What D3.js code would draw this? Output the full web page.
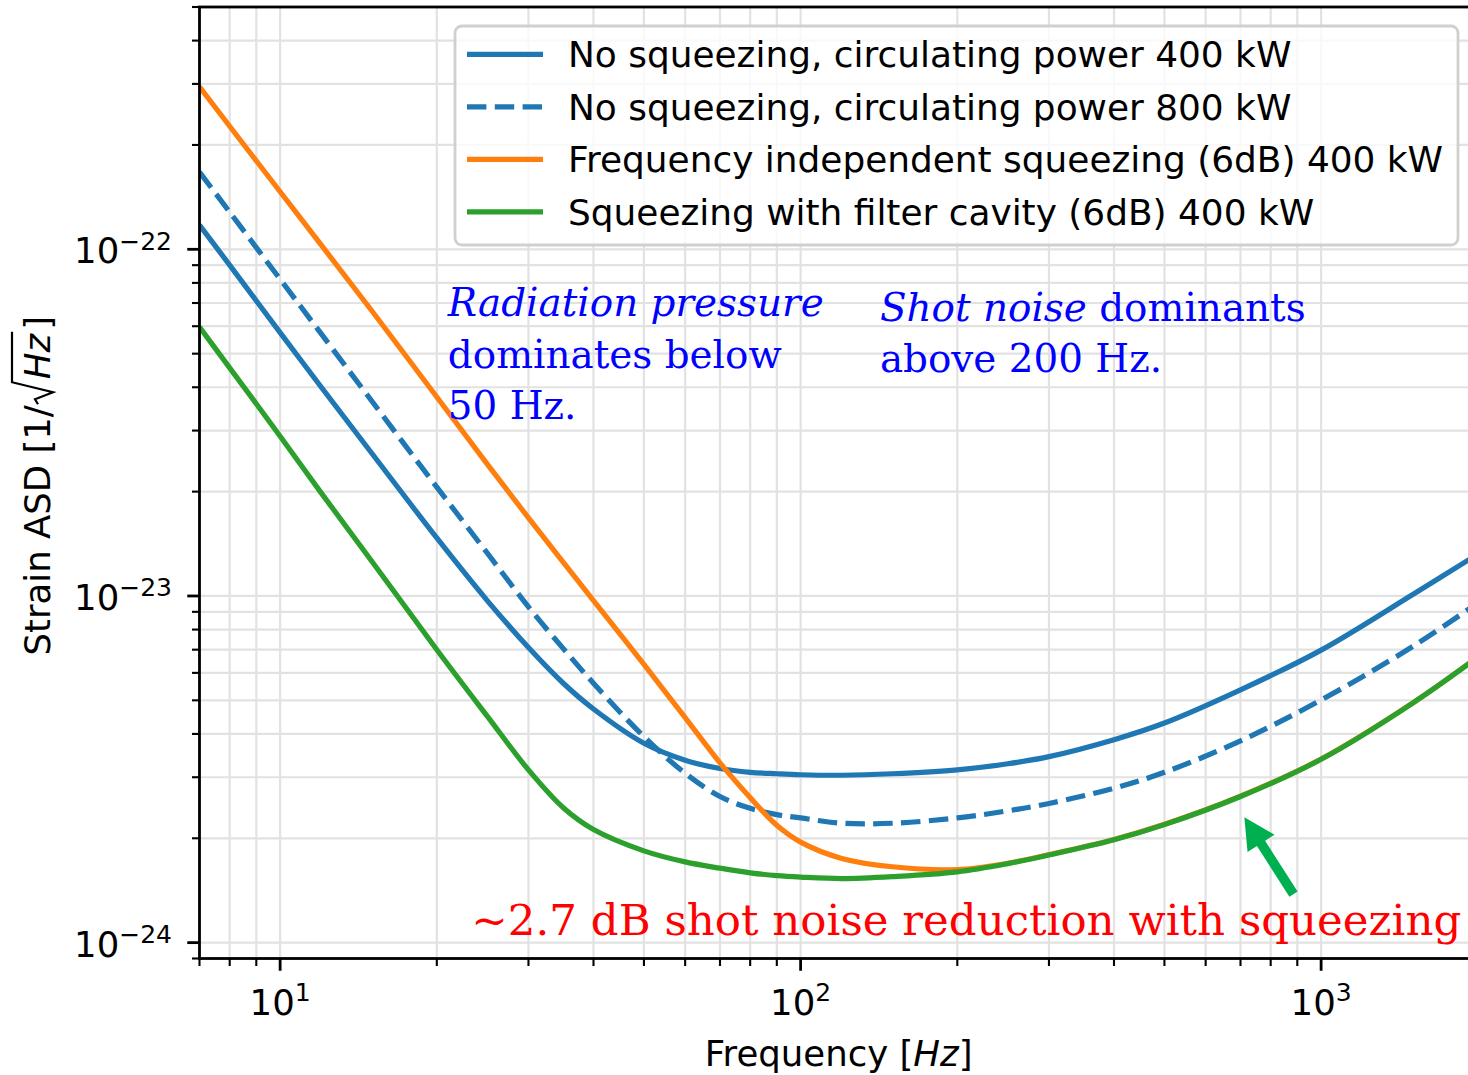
<!DOCTYPE html>
<html><head><meta charset="utf-8">
<script src="https://cdn.jsdelivr.net/npm/d3@7"></script>
<style>body{margin:0;background:#fff} svg{display:block}</style>
</head><body>
<svg id="chart" width="1468" height="1075"></svg>
<script>
// ---------- data ----------
const freq = [7, 8, 10, 12, 15, 20, 25, 30, 35, 40, 50, 60, 70, 80, 90, 100, 120, 150, 200, 250, 300, 400, 500, 700, 1000, 1500, 2000];
const noSqz400 = [117.5e-24, 90e-24, 57.5e-24, 40e-24, 25.8e-24, 14.7e-24, 9.7e-24, 7.1e-24, 5.6e-24, 4.72e-24, 3.76e-24, 3.36e-24, 3.18e-24, 3.10e-24, 3.07e-24, 3.05e-24, 3.04e-24, 3.07e-24, 3.15e-24, 3.28e-24, 3.44e-24, 3.85e-24, 4.30e-24, 5.36e-24, 6.98e-24, 10.1e-24, 13.2e-24];
const noSqz800 = [167e-24, 128e-24, 82e-24, 57e-24, 36.5e-24, 20.6e-24, 13.3e-24, 9.3e-24, 7.05e-24, 5.6e-24, 3.93e-24, 3.08e-24, 2.64e-24, 2.44e-24, 2.34e-24, 2.29e-24, 2.21e-24, 2.21e-24, 2.29e-24, 2.40e-24, 2.52e-24, 2.79e-24, 3.10e-24, 3.82e-24, 5.01e-24, 7.15e-24, 9.55e-24];
const fisSqz400 = [294e-24, 226.5e-24, 146.6e-24, 102.8e-24, 66.5e-24, 37.5e-24, 24e-24, 16.8e-24, 12.5e-24, 9.7e-24, 6.35e-24, 4.46e-24, 3.30e-24, 2.62e-24, 2.18e-24, 1.95e-24, 1.75e-24, 1.655e-24, 1.625e-24, 1.695e-24, 1.795e-24, 1.985e-24, 2.195e-24, 2.645e-24, 3.385e-24, 4.915e-24, 6.67e-24];
const fcSqz400 = [59.7e-24, 45.5e-24, 28.9e-24, 19.8e-24, 12.6e-24, 7.0e-24, 4.5e-24, 3.15e-24, 2.45e-24, 2.12e-24, 1.84e-24, 1.71e-24, 1.64e-24, 1.59e-24, 1.56e-24, 1.545e-24, 1.53e-24, 1.55e-24, 1.60e-24, 1.69e-24, 1.79e-24, 1.98e-24, 2.19e-24, 2.64e-24, 3.38e-24, 4.91e-24, 6.66e-24];
const seriesLabels = [
  "No squeezing, circulating power 400 kW",
  "No squeezing, circulating power 800 kW",
  "Frequency independent squeezing (6dB) 400 kW",
  "Squeezing with filter cavity (6dB) 400 kW"
];
const xMajorTicks = [10, 100, 1000];
const yMajorTicks = [1e-24, 1e-23, 1e-22];
const xDomain = [7, 2000];
const yDomain = [9e-25, 5e-22];

// ---------- styling ----------
const SANS = "'DejaVu Sans', sans-serif";
const SERIF = "'DejaVu Serif', serif";
const FS = 35.5;
const LFS = 35.9;
const colors = ["#1f77b4", "#1f77b4", "#ff7f0e", "#2ca02c"];
const dashes = [null, "19.4,8.4", null, null];

const svg = d3.select("#chart");
const x = d3.scaleLog().domain(xDomain).range([199.5, 1477.8]);
const y = d3.scaleLog().domain(yDomain).range([958.5, 7]);
const [X0, X1] = x.range();
const [Y1, Y0] = y.range();

svg.append("rect").attr("width", 1468).attr("height", 1075).attr("fill", "#fff");
svg.append("defs").append("clipPath").attr("id", "plotClip").append("rect")
  .attr("x", X0).attr("y", Y0).attr("width", X1 - X0).attr("height", Y1 - Y0);

function minorTicks(domain) {
  const [a, b] = domain, out = [];
  for (let k = Math.floor(Math.log10(a)) - 1; k <= Math.ceil(Math.log10(b)); k++) {
    for (let m = 2; m <= 9; m++) {
      const v = m * Math.pow(10, k);
      if (v >= a * 0.999 && v <= b * 1.001) out.push(v);
    }
  }
  return out;
}
const xMinor = minorTicks(xDomain);
const yMinor = minorTicks(yDomain);

// grid
const grid = svg.append("g").attr("stroke", "#e2e2e2").attr("stroke-width", 2.2);
xMajorTicks.concat(xMinor).forEach(t => grid.append("line")
  .attr("x1", x(t)).attr("x2", x(t)).attr("y1", Y0).attr("y2", Y1));
yMajorTicks.concat(yMinor).forEach(t => grid.append("line")
  .attr("y1", y(t)).attr("y2", y(t)).attr("x1", X0).attr("x2", X1));

// curves
const series = [noSqz400, noSqz800, fisSqz400, fcSqz400];
const line = d3.line().x((d, i) => x(freq[i])).y(d => y(d)).curve(d3.curveCatmullRom.alpha(0.5));
const lines = svg.append("g").attr("clip-path", "url(#plotClip)");
series.forEach((s, i) => {
  lines.append("path").attr("d", line(s)).attr("fill", "none")
    .attr("stroke", colors[i]).attr("stroke-width", 5.2)
    .attr("stroke-dasharray", dashes[i]);
});

// spines
svg.append("rect").attr("x", X0).attr("y", Y0).attr("width", X1 - X0).attr("height", Y1 - Y0)
  .attr("fill", "none").attr("stroke", "#000").attr("stroke-width", 2.8);

// ticks
const tk = svg.append("g").attr("stroke", "#000");
xMajorTicks.forEach(t => tk.append("line").attr("x1", x(t)).attr("x2", x(t)).attr("y1", Y1).attr("y2", Y1 + 12.25).attr("stroke-width", 2.8));
xMinor.forEach(t => tk.append("line").attr("x1", x(t)).attr("x2", x(t)).attr("y1", Y1).attr("y2", Y1 + 7.5).attr("stroke-width", 2.1));
yMajorTicks.forEach(t => tk.append("line").attr("y1", y(t)).attr("y2", y(t)).attr("x1", X0).attr("x2", X0 - 12.25).attr("stroke-width", 2.8));
yMinor.forEach(t => tk.append("line").attr("y1", y(t)).attr("y2", y(t)).attr("x1", X0).attr("x2", X0 - 7.5).attr("stroke-width", 2.1));

function expLabel(v) {
  const e = Math.round(Math.log10(v));
  return e < 0 ? "\u2212" + Math.abs(e) : String(e);
}
// tick labels
xMajorTicks.forEach(t => {
  const tx = svg.append("text").attr("x", x(t)).attr("y", 1015).attr("text-anchor", "middle")
    .attr("font-family", SANS).attr("font-size", FS).attr("fill", "#000");
  tx.append("tspan").text("10");
  tx.append("tspan").attr("dy", -13.7).attr("font-size", 25).text(expLabel(t));
});
yMajorTicks.forEach(t => {
  const tx = svg.append("text").attr("x", 172).attr("y", y(t) + 14).attr("text-anchor", "end")
    .attr("font-family", SANS).attr("font-size", FS).attr("fill", "#000");
  tx.append("tspan").text("10");
  tx.append("tspan").attr("dy", -13.7).attr("font-size", 25).text(expLabel(t));
});

// axis labels
const xl = svg.append("text").attr("x", (X0 + X1) / 2).attr("y", 1066).attr("text-anchor", "middle")
  .attr("font-family", SANS).attr("font-size", FS).attr("fill", "#000");
xl.append("tspan").text("Frequency [");
xl.append("tspan").attr("font-style", "italic").text("Hz");
xl.append("tspan").text("]");

const yg = svg.append("g").attr("transform", `translate(50,${(Y0 + Y1) / 2 + 3}) rotate(-90)`);
const yl = yg.append("text").attr("x", 0).attr("y", 0).attr("text-anchor", "middle")
  .attr("font-family", SANS).attr("font-size", FS).attr("fill", "#000");
yl.append("tspan").text("Strain ASD [1/");
yl.append("tspan").attr("dx", 26).attr("font-style", "italic").text("Hz");
yl.append("tspan").attr("dx", 4).text("]");
{
  const n = yl.node();
  const h = n.getStartPositionOfChar(14);
  const z = n.getEndPositionOfChar(15);
  const r0 = h.x - 26;
  yg.append("path")
    .attr("d", `M${r0 + 1},-12 L${r0 + 6},-15 L${r0 + 13},3 L${h.x - 3},-38 L${z.x + 2},-38`)
    .attr("fill", "none").attr("stroke", "#000").attr("stroke-width", 2.2).attr("stroke-linejoin", "miter");
}

// legend
const lg = svg.append("g");
lg.append("rect").attr("x", 455).attr("y", 26).attr("width", 1003).attr("height", 219).attr("rx", 7)
  .attr("fill", "#fff").attr("fill-opacity", 0.8).attr("stroke", "#d0d0d0").attr("stroke-width", 2.8);
seriesLabels.forEach((lab, i) => {
  const ry = 54.3 + i * 52.5;
  lg.append("line").attr("x1", 467).attr("x2", 543).attr("y1", ry).attr("y2", ry)
    .attr("stroke", colors[i]).attr("stroke-width", 5.2).attr("stroke-dasharray", dashes[i]);
  lg.append("text").attr("x", 568).attr("y", ry + 13).attr("font-family", SANS).attr("font-size", LFS)
    .attr("fill", "#000").text(lab);
});

// annotations (positions in data coordinates)
const annBlue = [
  { f: 21.0, v: 6.42e-23, segs: [["Radiation pressure", true]] },
  { f: 21.0, v: 4.55e-23, segs: [["dominates below", false]] },
  { f: 21.0, v: 3.24e-23, segs: [["50 Hz.", false]] },
  { f: 142, v: 6.21e-23, segs: [["Shot noise", true], [" dominants", false]] },
  { f: 142, v: 4.43e-23, segs: [["above 200 Hz.", false]] }
];
const annRed = { f: 23.3, v: 1.05e-24, text: "~2.7 dB shot noise reduction with squeezing" };
const arrowTip = { f: 712, v: 2.30e-24 };
const arrowTail = { f: 885, v: 1.38e-24 };

function addText(a, color, size) {
  const t = svg.append("text").attr("x", x(a.f)).attr("y", y(a.v))
    .attr("font-family", SERIF).attr("font-size", size).attr("fill", color);
  a.segs.forEach(s => t.append("tspan").attr("font-style", s[1] ? "italic" : "normal").text(s[0]));
  return t;
}
// fit serif size to the reference text widths
const probe = addText(annBlue[1], "#00f", 40);
const serifSize = 40 * 334 / probe.node().getComputedTextLength();
probe.remove();
annBlue.forEach(a => addText(a, "#0000ff", serifSize));

const rt = svg.append("text").attr("x", x(annRed.f)).attr("y", y(annRed.v))
  .attr("font-family", SERIF).attr("font-size", 44).attr("fill", "#ff0000").text(annRed.text);
rt.attr("font-size", 44 * 990 / rt.node().getComputedTextLength());

// arrow
{
  const tx = x(arrowTip.f), ty = y(arrowTip.v), sx = x(arrowTail.f), sy = y(arrowTail.v);
  const L = Math.hypot(tx - sx, ty - sy), ux = (tx - sx) / L, uy = (ty - sy) / L;
  const nx = -uy, ny = ux, w = 9.7, hw = 32, hl = 31;
  const bx = tx - ux * hl, by = ty - uy * hl;
  const pts = [
    [sx + nx * w / 2, sy + ny * w / 2], [bx + nx * w / 2, by + ny * w / 2], [bx + nx * hw / 2, by + ny * hw / 2],
    [tx, ty], [bx - nx * hw / 2, by - ny * hw / 2], [bx - nx * w / 2, by - ny * w / 2], [sx - nx * w / 2, sy - ny * w / 2]
  ];
  svg.append("polygon").attr("points", pts.map(p => p.join(",")).join(" ")).attr("fill", "#00b050");
}
</script>
</body></html>
